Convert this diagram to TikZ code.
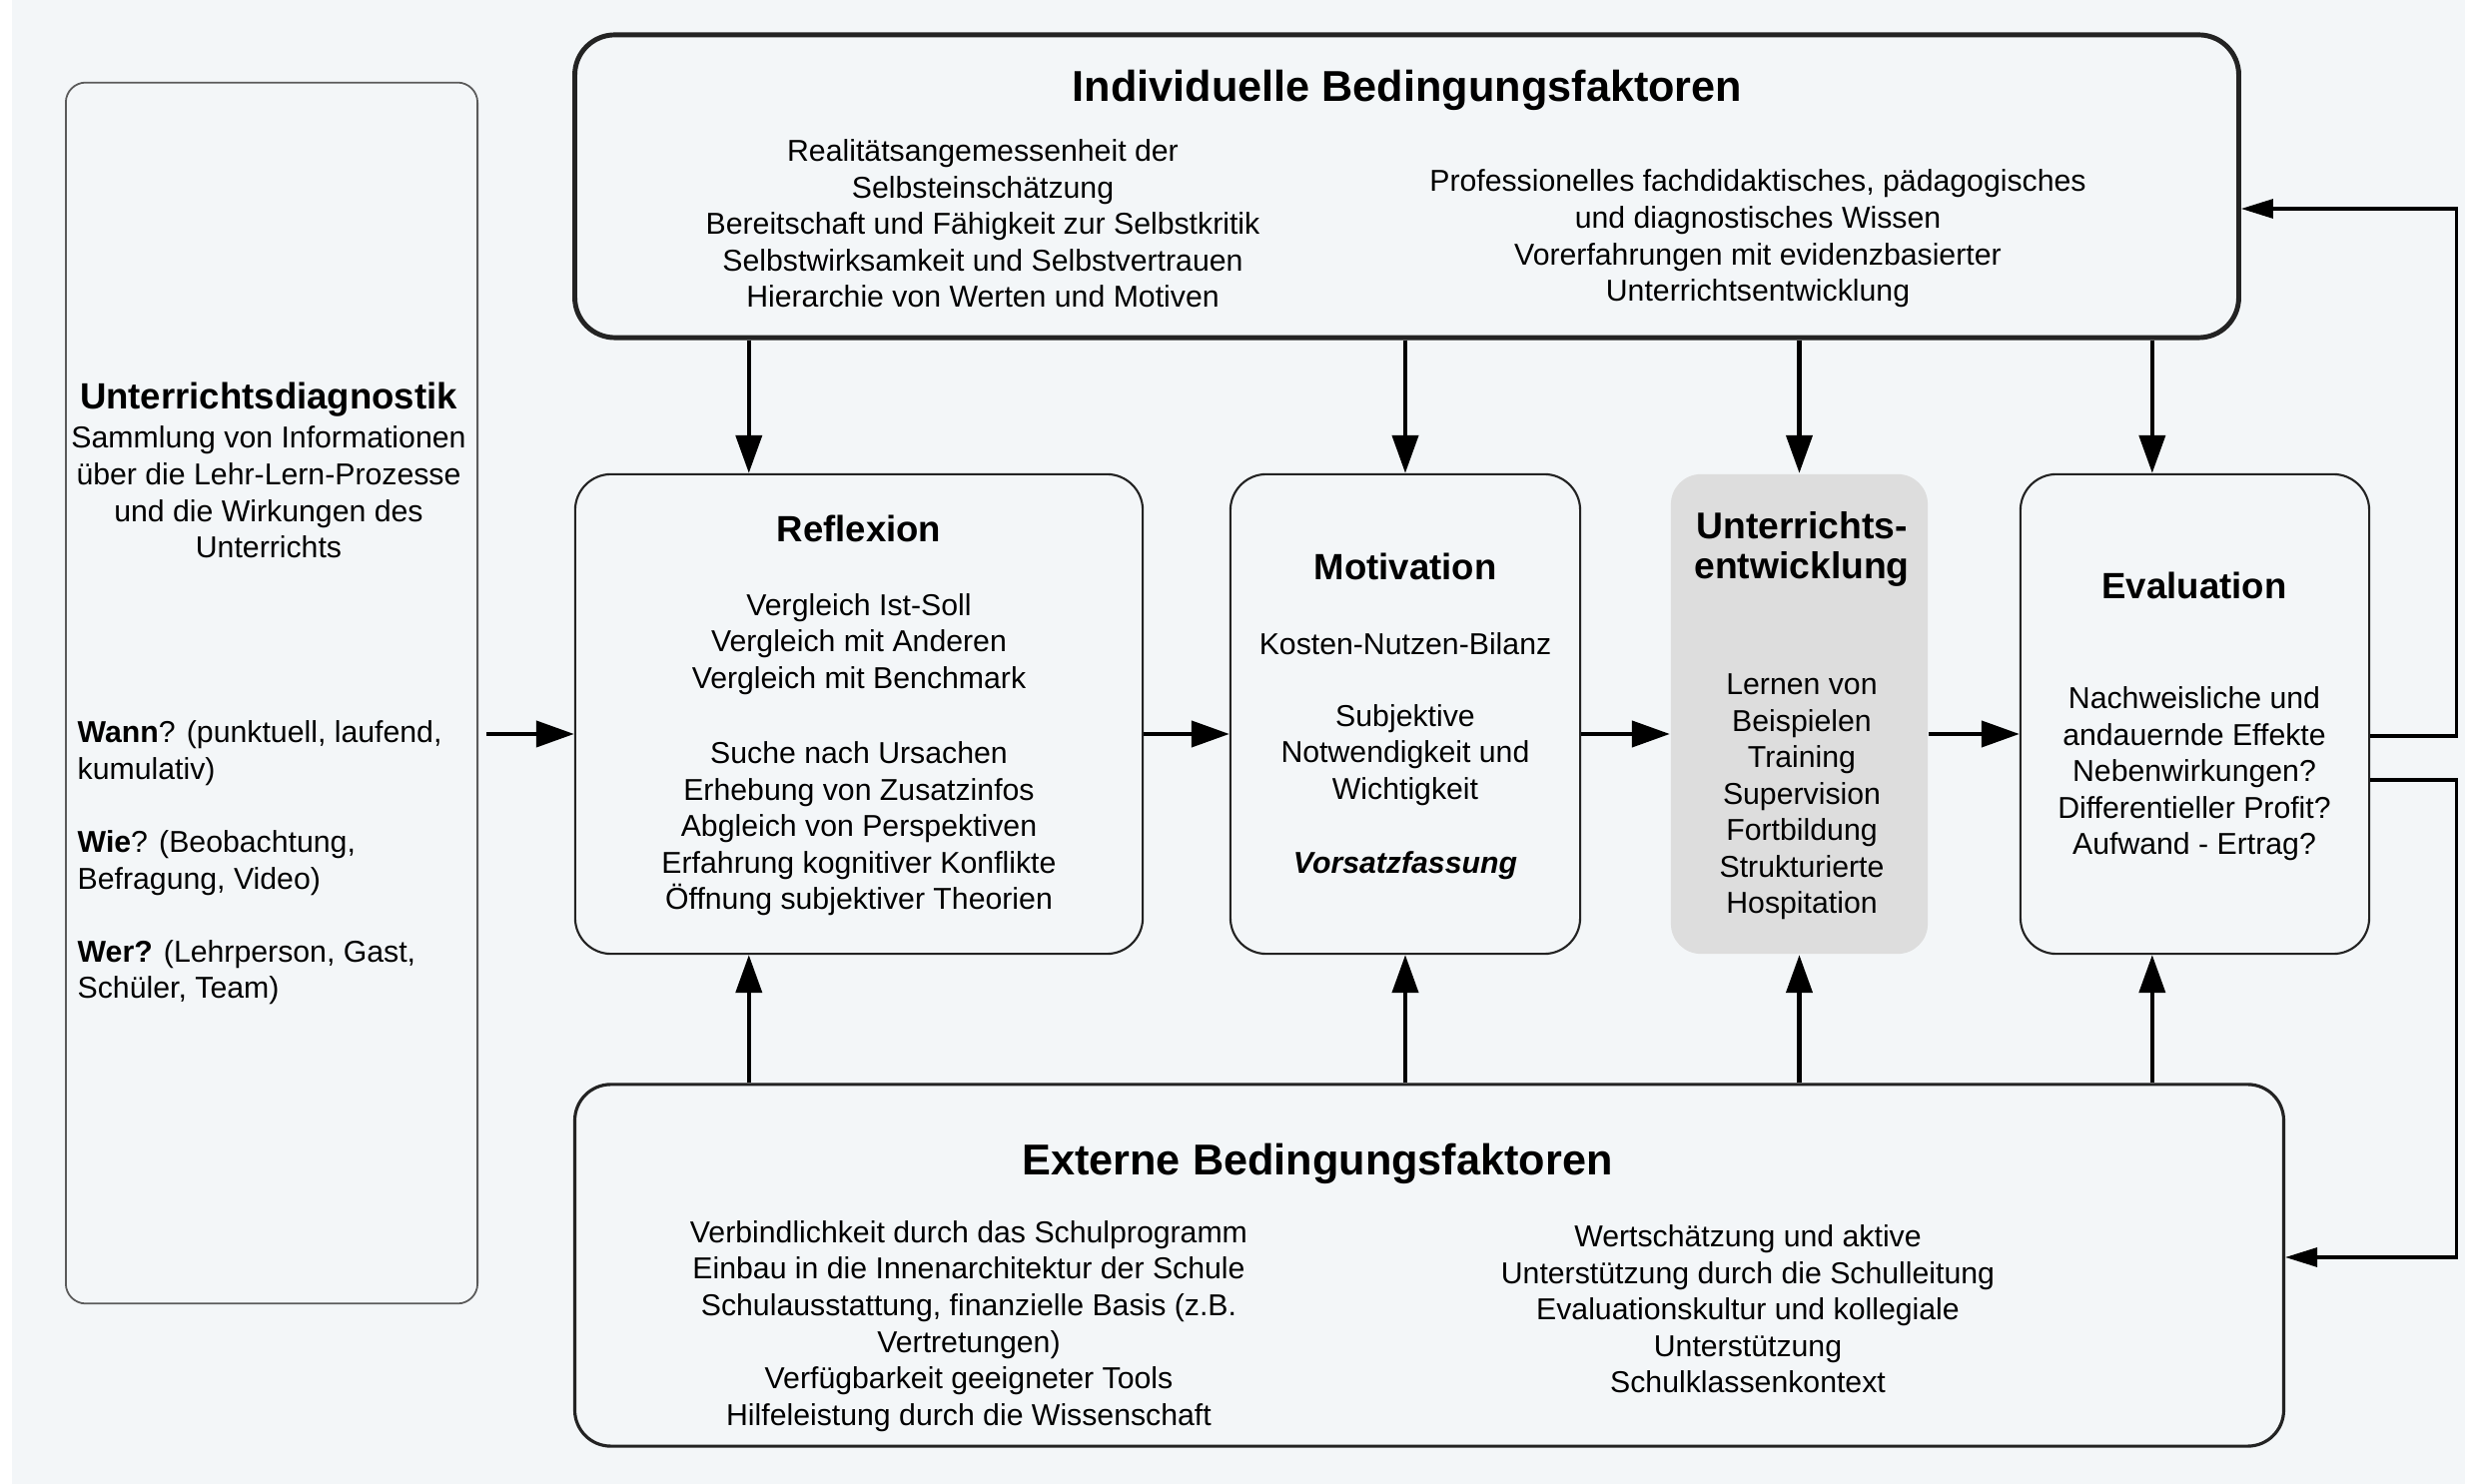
\documentclass[tikz,border=0pt]{standalone}
\usepackage{fontspec}
\setmainfont{Liberation Sans}
\usetikzlibrary{arrows.meta,calc}
\definecolor{bg}{RGB}{243,246,248}
\definecolor{uegray}{RGB}{221,221,221}
\definecolor{edge}{RGB}{35,35,35}
\begin{document}
\begin{tikzpicture}[x=0.01cm,y=-0.01cm,
  box/.style={draw=edge, rounded corners=0.36cm, inner sep=0, line width=0.6pt},
  txt/.style={inner sep=0, align=center, font=\fontsize{8.6}{10.4}\selectfont},
  ttl/.style={inner sep=0, align=center, font=\fontsize{10.4}{12.5}\selectfont\bfseries},
  bigttl/.style={inner sep=0, align=center, font=\fontsize{12.3}{14}\selectfont\bfseries},
  arr/.style={line width=1.2pt, -{Triangle[length=0.38cm,width=0.26cm]}},
  loopline/.style={line width=0.9pt, -{Triangle[length=0.32cm,width=0.19cm]}}
]
\fill[bg] (0,0) rectangle (2468,1486);
\fill[white] (0,0) rectangle (12,1486);
\useasboundingbox (0,0) rectangle (2468,1486);

% boxes
\node[box, draw=edge!75, line width=0.5pt, rounded corners=0.2cm, minimum width=4.12cm, minimum height=12.22cm] (diag) at (272,694) {};
\node[box, line width=1.4pt, rounded corners=0.4cm, minimum width=16.65cm, minimum height=3.03cm] (ind) at (1408.5,186.5) {};
\node[box, minimum width=5.68cm, minimum height=4.8cm] (refl) at (860,715) {};
\node[box, minimum width=3.5cm, minimum height=4.8cm] (motiv) at (1407,715) {};
\node[box, draw=none, fill=uegray, rounded corners=0.3cm, minimum width=2.57cm, minimum height=4.8cm] (ue) at (1801.5,715) {};
\node[box, minimum width=3.49cm, minimum height=4.8cm] (eval) at (2197.5,715) {};
\node[box, line width=0.9pt, rounded corners=0.36cm, minimum width=17.1cm, minimum height=3.62cm] (ext) at (1431,1267) {};

% texts: Individuelle
\node[bigttl] (indT) at (1409,90) {Individuelle Bedingungsfaktoren};
\node[txt] (indL) at (984,224) {Realitätsangemessenheit der\\Selbsteinschätzung\\Bereitschaft und Fähigkeit zur Selbstkritik\\Selbstwirksamkeit und Selbstvertrauen\\Hierarchie von Werten und Motiven};
\node[txt] (indR) at (1760,239) {Professionelles fachdidaktisches, pädagogisches\\und diagnostisches Wissen\\Vorerfahrungen mit evidenzbasierter\\Unterrichtsentwicklung};

% Reflexion
\node[ttl] (reflT) at (860,529) {Reflexion};
\node[txt] (refl1) at (860,645) {Vergleich Ist-Soll\\Vergleich mit Anderen\\Vergleich mit Benchmark};
\node[txt] (refl2) at (860,830) {Suche nach Ursachen\\Erhebung von Zusatzinfos\\Abgleich von Perspektiven\\Erfahrung kognitiver Konflikte\\Öffnung subjektiver Theorien};

% Motivation
\node[ttl] (motT) at (1407,567) {Motivation};
\node[txt] (mot1) at (1407,645) {Kosten-Nutzen-Bilanz};
\node[txt] (mot2) at (1407,756) {Subjektive\\Notwendigkeit und\\Wichtigkeit};
\node[txt, font=\fontsize{8.6}{10.4}\selectfont\bfseries\itshape] (mot3) at (1407,867) {Vorsatzfassung};

% Unterrichtsentwicklung
\node[ttl, font=\fontsize{10.6}{11.4}\selectfont\bfseries] (ueT) at (1804,550) {Unterrichts-\\entwicklung};
\node[txt] (ue1) at (1804,798) {Lernen von\\Beispielen\\Training\\Supervision\\Fortbildung\\Strukturierte\\Hospitation};

% Evaluation
\node[ttl] (evalT) at (2197,586) {Evaluation};
\node[txt] (eval1) at (2197,775) {Nachweisliche und\\andauernde Effekte\\Nebenwirkungen?\\Differentieller Profit?\\Aufwand - Ertrag?};

% Unterrichtsdiagnostik
\node[ttl] (diagT) at (269,400) {Unterrichtsdiagnostik};
\node[txt] (diag1) at (269,493) {Sammlung von Informationen\\über die Lehr-Lern-Prozesse\\und die Wirkungen des\\Unterrichts};
\node[txt, align=left, anchor=west] (diag2) at (77,864) {\textbf{Wann}? (punktuell, laufend,\\kumulativ)\\[10.4pt]\textbf{Wie}? (Beobachtung,\\Befragung, Video)\\[10.4pt]\textbf{Wer?} (Lehrperson, Gast,\\Schüler, Team)};

% Externe
\node[bigttl] (extT) at (1319,1165) {Externe Bedingungsfaktoren};
\node[txt] (ext1) at (970,1328) {Verbindlichkeit durch das Schulprogramm\\Einbau in die Innenarchitektur der Schule\\Schulausstattung, finanzielle Basis (z.B.\\Vertretungen)\\Verfügbarkeit geeigneter Tools\\Hilfeleistung durch die Wissenschaft};
\node[txt] (ext2) at (1750,1311) {Wertschätzung und aktive\\Unterstützung durch die Schulleitung\\Evaluationskultur und kollegiale\\Unterstützung\\Schulklassenkontext};

% horizontal arrows
\coordinate (hy) at (0,735);
\draw[arr, shorten <=0.08cm] (diag.east |- hy) -- (refl.west |- hy);
\draw[arr] (refl.east |- hy) -- (motiv.west |- hy);
\draw[arr] (motiv.east |- hy) -- (ue.west |- hy);
\draw[arr] (ue.east |- hy) -- (eval.west |- hy);

% vertical arrows
\coordinate (v1) at ($(refl.north west)+(175,0)$);
\coordinate (v4) at ($(eval.north west)+(133,0)$);
\draw[arr] (ind.south -| v1) -- (refl.north -| v1);
\draw[arr] (ind.south -| motiv.north) -- (motiv.north);
\draw[arr] (ind.south -| ue.north) -- (ue.north);
\draw[arr] (ind.south -| v4) -- (eval.north -| v4);
\draw[arr] (ext.north -| v1) -- (refl.south -| v1);
\draw[arr] (ext.north -| motiv.south) -- (motiv.south);
\draw[arr] (ext.north -| ue.south) -- (ue.south);
\draw[arr] (ext.north -| v4) -- (eval.south -| v4);

% feedback loops
\coordinate (lx) at ($(eval.east)+(86,0)$);
\coordinate (e1) at ([yshift=-0.22cm]eval.east);
\coordinate (e2) at ([yshift=-0.66cm]eval.east);
\coordinate (i1) at ([yshift=-0.225cm]ind.east);
\coordinate (x1) at ([yshift=0.08cm]ext.east);
\draw[loopline] (e1) -- (e1 -| lx) |- (i1);
\draw[loopline] (e2) -- (e2 -| lx) |- (x1);
\end{tikzpicture}
\end{document}
